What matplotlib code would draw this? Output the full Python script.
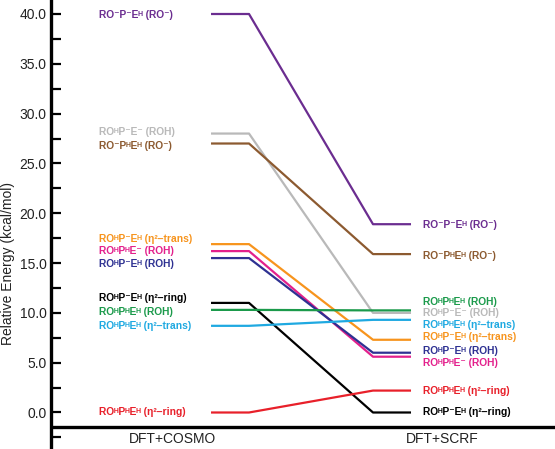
import matplotlib.pyplot as plt
from matplotlib.ticker import MultipleLocator, FormatStrFormatter

plt.rcParams['font.family'] = ['Liberation Sans', 'DejaVu Sans']

methods = ['DFT+COSMO', 'DFT+SCRF']

species = [
    'RO⁻P⁻Eᴴ (RO⁻)',
    'ROᴴP⁻E⁻ (ROH)',
    'RO⁻PᴴEᴴ (RO⁻)',
    'ROᴴP⁻Eᴴ (η²–trans)',
    'ROᴴPᴴE⁻ (ROH)',
    'ROᴴP⁻Eᴴ (ROH)',
    'ROᴴP⁻Eᴴ (η²–ring)',
    'ROᴴPᴴEᴴ (ROH)',
    'ROᴴPᴴEᴴ (η²–trans)',
    'ROᴴPᴴEᴴ (η²–ring)',
]
cosmo = [40.0, 28.0, 27.0, 16.9, 16.2, 15.5, 11.0, 10.3, 8.7, 0.0]
scrf = [18.9, 10.0, 15.9, 7.3, 5.6, 6.0, 0.0, 10.25, 9.3, 2.2]

colors = ['#6b2d90', '#b9b9b9', '#8c5a30', '#f7941d', '#e3208c',
          '#2e3192', '#000000', '#1b9a4b', '#1fa9e1', '#e8202a']

# label heights, nudged apart where levels are crowded
label_left = [39.9, 28.15, 26.8, 17.45, 16.2, 14.9, 11.5, 10.05, 8.65, 0.05]
label_right = [18.8, 9.96, 15.7, 7.55, 5.0, 6.2, 0.1, 11.1, 8.75, 2.2]

fig = plt.figure(figsize=(5.55, 4.49), dpi=100)
ax = fig.add_axes([51 / 555, 0, 504 / 555, 1])

xl0, xl1, xr0, xr1 = 3.175, 3.929, 6.389, 7.143
for name, a, b, c, ya, yb in zip(species, cosmo, scrf, colors, label_left, label_right):
    ax.plot([xl0, xl1, xr0, xr1], [a, a, b, b], color=c, lw=1.6, solid_capstyle='butt')
    ax.text(0.95, ya, name, color=c, fontsize=7.4, fontweight='bold', va='center', ha='left')
    ax.text(7.38, yb, name, color=c, fontsize=7.4, fontweight='bold', va='center', ha='left')

ax.axhline(-1.455, color='black', lw=2.4)
for m, xm in zip(methods, [2.42, 7.76]):
    ax.text(xm, -2.66, m, fontsize=10, ha='center', va='center', color='#222222')

ax.set_xlim(0, 10)
ax.set_ylim(-3.664, 41.405)
ax.set_xticks([])
ax.yaxis.set_major_locator(MultipleLocator(5))
ax.yaxis.set_minor_locator(MultipleLocator(2.5))
ax.yaxis.set_major_formatter(FormatStrFormatter('%.1f'))
ax.set_yticks([0, 5, 10, 15, 20, 25, 30, 35, 40])
ax.tick_params(axis='y', which='both', direction='in', length=7, width=1.6, labelsize=10, pad=3,
               colors='black', labelcolor='#222222')
for s in ['top', 'right', 'bottom']:
    ax.spines[s].set_visible(False)
ax.spines['left'].set_linewidth(2.4)

ax.set_ylabel('Relative Energy (kcal/mol)', fontsize=10, color='#222222')
ax.yaxis.set_label_coords(-0.072, 0.414)

fig.savefig('out.png', dpi=100)
